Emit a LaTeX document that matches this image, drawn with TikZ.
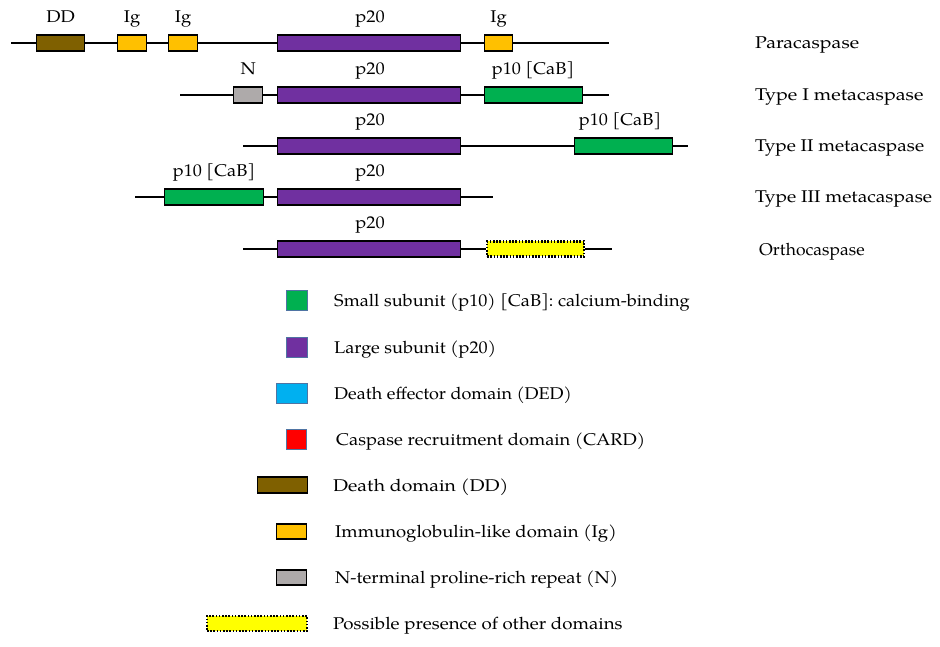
\documentclass[tikz,border=0pt]{standalone}
\usepackage{fontspec}
\setmainfont{TeX Gyre Pagella}
\usepackage{graphicx}
\usepackage{xcolor}
\newcommand{\hstr}[2]{\scalebox{#1}[1]{#2}}
\definecolor{ddc}{HTML}{7F6000}
\definecolor{igc}{HTML}{FFC000}
\definecolor{p20c}{HTML}{7030A0}
\definecolor{p10c}{HTML}{00B050}
\definecolor{nc}{HTML}{AEAAAA}
\definecolor{dedc}{HTML}{00B0F0}
\definecolor{cardc}{HTML}{FF0000}
\definecolor{yelc}{HTML}{FFFF00}
\definecolor{legb}{HTML}{4F74A3}
\begin{document}
\begin{tikzpicture}[x=1pt,y=-1pt,
  every node/.style={font=\fontsize{17}{21}\selectfont},
  backbone/.style={line width=1.4pt,black},
  dom/.style={draw=black,line width=1.3pt,minimum height=16pt,inner sep=0pt,anchor=west},
  other/.style={draw=black,line width=2.2pt,dash pattern=on 1.6pt off 1.6pt,minimum height=15pt,inner sep=0pt,fill=yelc},
  lbl/.style={anchor=base,inner sep=0pt},
  protname/.style={anchor=base west,inner sep=0pt},
  legsq/.style={draw=legb,line width=1pt,inner sep=0pt,anchor=east,minimum height=20pt},
  legbx/.style={draw=black,line width=1.3pt,inner sep=0pt,anchor=east},
  legtxt/.style={anchor=base west,inner sep=0pt}]
\useasboundingbox (0,0) rectangle (940,647);

% ---------- Paracaspase ----------
\coordinate (a0) at (11,43);
\coordinate (a9) at (609,43);
\node[dom,fill=ddc,minimum width=48pt] (aDD) at (36,43) {};
\node[dom,fill=igc,minimum width=29pt] (aIg1) at (117,43) {};
\node[dom,fill=igc,minimum width=29pt] (aIg2) at (168,43) {};
\node[dom,fill=p20c,minimum width=183pt] (aP20) at (277,43) {};
\node[dom,fill=igc,minimum width=28pt] (aIg3) at (484,43) {};
\draw[backbone] (a0) -- (aDD.west) (aDD.east) -- (aIg1.west) (aIg1.east) -- (aIg2.west)
  (aIg2.east) -- (aP20.west) (aP20.east) -- (aIg3.west) (aIg3.east) -- (a9);
\node[lbl] (laDD) at (aDD.center |- 0,23) {\hstr{1.08}{DD}};
\node[lbl] (laIg1) at (aIg1.center |- 0,23) {\hstr{1.08}{Ig}};
\node[lbl] (laIg2) at (aIg2.center |- 0,23) {\hstr{1.08}{Ig}};
\node[lbl] (laP20) at (370,23) {\hstr{1.08}{p20}};
\node[lbl] (laIg3) at (aIg3.center |- 0,23) {\hstr{1.08}{Ig}};
\node[protname] (na) at (755,49) {\hstr{1.15}{Paracaspase}};

% ---------- Type I ----------
\coordinate (b0) at (180,95);
\coordinate (b9) at (609,95);
\node[dom,fill=nc,minimum width=29pt] (bN) at (233,95) {};
\node[dom,fill=p20c,minimum width=183pt] (bP20) at (277,95) {};
\node[dom,fill=p10c,minimum width=98pt] (bP10) at (484,95) {};
\draw[backbone] (b0) -- (bN.west) (bN.east) -- (bP20.west) (bP20.east) -- (bP10.west) (bP10.east) -- (b9);
\node[lbl] (lbN) at (bN.center |- 0,75) {\hstr{1.08}{N}};
\node[lbl] (lbP20) at (370,75) {\hstr{1.08}{p20}};
\node[lbl] (lbP10) at (533,75) {\hstr{1.07}{p10 [CaB]}};
\node[protname] (nb) at (755,101) {\hstr{1.16}{Type I metacaspase}};

% ---------- Type II ----------
\coordinate (c0) at (243,146);
\coordinate (c9) at (688,146);
\node[dom,fill=p20c,minimum width=183pt] (cP20) at (277,146) {};
\node[dom,fill=p10c,minimum width=98pt] (cP10) at (574,146) {};
\draw[backbone] (c0) -- (cP20.west) (cP20.east) -- (cP10.west) (cP10.east) -- (c9);
\node[lbl] (lcP20) at (370,126) {\hstr{1.08}{p20}};
\node[lbl] (lcP10) at (620,126) {\hstr{1.07}{p10 [CaB]}};
\node[protname] (nc) at (755,152) {\hstr{1.12}{Type II metacaspase}};

% ---------- Type III ----------
\coordinate (d0) at (135,197);
\coordinate (d9) at (493,197);
\node[dom,fill=p10c,minimum width=99pt] (dP10) at (164,197) {};
\node[dom,fill=p20c,minimum width=183pt] (dP20) at (277,197) {};
\draw[backbone] (d0) -- (dP10.west) (dP10.east) -- (dP20.west) (dP20.east) -- (d9);
\node[lbl] (ldP10) at (214,177) {\hstr{1.07}{p10 [CaB]}};
\node[lbl] (ldP20) at (370,177) {\hstr{1.08}{p20}};
\node[protname] (nd) at (755,203) {\hstr{1.13}{Type III metacaspase}};

% ---------- Orthocaspase ----------
\coordinate (e0) at (243,249);
\coordinate (e9) at (612,249);
\node[dom,fill=p20c,minimum width=183pt] (eP20) at (277,249) {};
\node[other,anchor=west,minimum width=97pt] (eO) at (486,249) {};
\draw[backbone] (e0) -- (eP20.west) (eP20.east) -- (eO.west) (eO.east) -- (e9);
\node[lbl] (leP20) at (370,229) {\hstr{1.08}{p20}};
\node[protname] (ne) at (759,255) {\hstr{1.03}{Orthocaspase}};

% ---------- Legend ----------
\node[legsq,fill=p10c,minimum width=21pt] (k1) at (308,300.5) {};
\node[legtxt] (t1) at (334,306.5) {\hstr{1.07}{Small subunit (p10) [CaB]: calcium-binding}};
\node[legsq,fill=p20c,minimum width=21pt] (k2) at (308,347) {};
\node[legtxt] (t2) at (334,353) {\hstr{1.07}{Large subunit (p20)}};
\node[legsq,fill=dedc,minimum width=31pt] (k3) at (308,393) {};
\node[legtxt] (t3) at (334,399) {\hstr{1.06}{Death effector domain (DED)}};
\node[legsq,fill=cardc,minimum width=20pt] (k4) at (307,439) {};
\node[legtxt] (t4) at (336,445) {\hstr{1.08}{Caspase recruitment domain (CARD)}};
\node[legbx,fill=ddc,minimum width=50pt,minimum height=16pt] (k5) at (308,485) {};
\node[legtxt] (t5) at (333,491) {\hstr{1.14}{Death domain (DD)}};
\node[legbx,fill=igc,minimum width=30pt,minimum height=15pt] (k6) at (307,531.5) {};
\node[legtxt] (t6) at (335,537.5) {\hstr{1.09}{Immunoglobulin-like domain (Ig)}};
\node[legbx,fill=nc,minimum width=30pt,minimum height=15pt] (k7) at (307,577.5) {};
\node[legtxt] (t7) at (335,583.5) {\hstr{1.08}{N-terminal proline-rich repeat (N)}};
\node[other,anchor=east,minimum width=100pt] (k8) at (308,623.5) {};
\node[legtxt] (t8) at (333,629.5) {\hstr{1.10}{Possible presence of other domains}};
\end{tikzpicture}
\end{document}
